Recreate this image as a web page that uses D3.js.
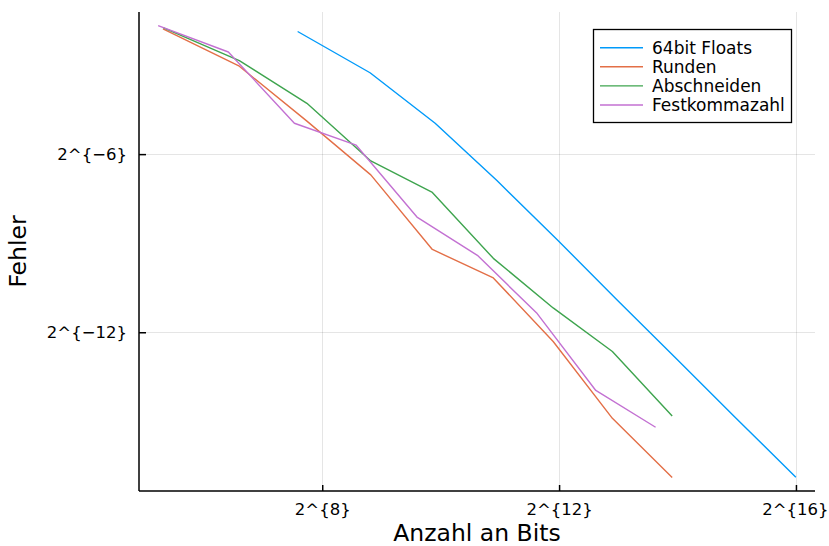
<!DOCTYPE html>
<html>
<head>
<meta charset="utf-8">
<script src="https://cdn.jsdelivr.net/npm/d3@7"></script>
<style>
  html, body { margin: 0; padding: 0; background: #fff; }
  svg { display: block; font-family: "DejaVu Sans", sans-serif; }
</style>
</head>
<body>
<svg id="chart" width="829" height="546"></svg>
<script>
// Number of bits per configuration and resulting error, one pair of arrays per method
const seriesNames = ["64bit Floats", "Runden", "Abschneiden", "Festkommazahl"];
const seriesColors = ["#009AFA", "#E36F47", "#3EA44E", "#C371D2"];

const bitsFloats = [192, 448, 960, 1984, 4032, 8128, 16320, 32704, 65472];
const errFloats = [0.2736, 0.1044, 0.03213, 0.008373, 0.002093, 0.0005126, 0.000129, 3.248e-5, 8.291e-6];

const bitsRunden = [39.7, 97, 214, 452, 929, 1897, 3822, 7643, 15391];
const errRunden = [0.291, 0.1216, 0.03373, 0.009618, 0.001688, 0.000868, 0.0001969, 3.271e-5, 8.234e-6];

const bitsAbschneiden = [39.7, 97, 214, 452, 929, 1897, 3822, 7643, 15391];
const errAbschneiden = [0.2994, 0.1387, 0.05112, 0.01332, 0.006391, 0.001371, 0.000431, 0.0001556, 3.457e-5];

const bitsFestkomma = [37.5, 85.3, 184.8, 381, 776, 1574, 3170, 6294, 12675];
const errFestkomma = [0.3143, 0.1696, 0.03213, 0.01924, 0.003595, 0.00147, 0.0003778, 6.275e-5, 2.657e-5];

const xTickExps = [8, 12, 16];
const yTickExps = [-6, -12];

const xLabel = "Anzahl an Bits";
const yLabel = "Fehler";

const series = [
  { name: seriesNames[0], color: seriesColors[0], x: bitsFloats, y: errFloats },
  { name: seriesNames[1], color: seriesColors[1], x: bitsRunden, y: errRunden },
  { name: seriesNames[2], color: seriesColors[2], x: bitsAbschneiden, y: errAbschneiden },
  { name: seriesNames[3], color: seriesColors[3], x: bitsFestkomma, y: errFestkomma }
];

const svg = d3.select("#chart");
const plot = { left: 139, right: 815, top: 12, bottom: 491 };

// log2 extent of the data, widened by 3% on each side
function paddedDomain(values) {
  const [lo, hi] = d3.extent(values, v => Math.log2(v));
  const pad = (hi - lo) * 0.03;
  return [Math.pow(2, lo - pad), Math.pow(2, hi + pad)];
}

const x = d3.scaleLog().base(2)
  .domain(paddedDomain(series.flatMap(s => s.x)))
  .range([plot.left, plot.right]);
const y = d3.scaleLog().base(2)
  .domain(paddedDomain(series.flatMap(s => s.y)))
  .range([plot.bottom, plot.top]);

const expLabel = e => "2^{" + String(e).replace("-", "\u2212") + "}";
const xTicks = xTickExps.map(e => Math.pow(2, e));
const yTicks = yTickExps.map(e => Math.pow(2, e));

// grid
const grid = svg.append("g").attr("stroke", "#000").attr("stroke-opacity", 0.1).attr("stroke-width", 1);
grid.selectAll(".gx").data(xTicks).join("line")
  .attr("x1", d => Math.round(x(d)) + 0.5).attr("x2", d => Math.round(x(d)) + 0.5)
  .attr("y1", plot.top).attr("y2", plot.bottom);
grid.selectAll(".gy").data(yTicks).join("line")
  .attr("y1", d => Math.round(y(d)) + 0.5).attr("y2", d => Math.round(y(d)) + 0.5)
  .attr("x1", plot.left).attr("x2", plot.right);

// axes
const xAxis = d3.axisBottom(x).tickValues(xTicks).tickSize(-6).tickPadding(12)
  .tickFormat((d, i) => expLabel(xTickExps[i]));
const yAxis = d3.axisLeft(y).tickValues(yTicks).tickSize(-7).tickPadding(12)
  .tickFormat((d, i) => expLabel(yTickExps[i]));

const gx = svg.append("g").attr("transform", `translate(0,${plot.bottom})`).call(xAxis);
const gy = svg.append("g").attr("transform", `translate(${plot.left},0)`).call(yAxis);
[gx, gy].forEach(g => {
  g.select(".domain").attr("stroke", "#000").attr("stroke-width", 1.5);
  g.selectAll(".tick line").attr("stroke", "#000").attr("stroke-width", 1.5);
  g.selectAll(".tick text").attr("fill", "#000")
    .style("font-family", "'DejaVu Sans', sans-serif").style("font-size", "16.5px");
});
gx.select(".domain").attr("d", `M${plot.left},0H${plot.right}`);
gy.select(".domain").attr("d", `M0,${plot.bottom}V${plot.top}`);
// keep the rightmost tick label inside the canvas
gx.selectAll(".tick text").filter((d, i) => i === xTicks.length - 1).attr("dx", "-1");

// axis titles
svg.append("text")
  .attr("x", (plot.left + plot.right) / 2).attr("y", 541)
  .attr("text-anchor", "middle").style("font-size", "23.5px").text(xLabel);
svg.append("text")
  .attr("transform", `translate(25.5,${(plot.top + plot.bottom) / 2}) rotate(-90)`)
  .attr("text-anchor", "middle").style("font-size", "23.5px").text(yLabel);

// series lines
const line = d3.line().x(d => x(d[0])).y(d => y(d[1]));
svg.append("g").selectAll("path").data(series).join("path")
  .attr("fill", "none")
  .attr("stroke", d => d.color)
  .attr("stroke-width", 1.4)
  .attr("stroke-linejoin", "round")
  .attr("d", d => line(d3.zip(d.x, d.y)));

// legend
const legend = svg.append("g");
legend.append("rect")
  .attr("x", 593.5).attr("y", 29.5).attr("width", 198).attr("height", 93)
  .attr("fill", "#fff").attr("stroke", "#000").attr("stroke-width", 1.3);
const item = legend.selectAll(".item").data(series).join("g")
  .attr("transform", (d, i) => `translate(0,${47.7 + i * 19.1})`);
item.append("line").attr("x1", 600).attr("x2", 643)
  .attr("stroke", d => d.color).attr("stroke-width", 1.4);
item.append("text").attr("x", 652).attr("dy", "0.36em")
  .style("font-size", "17px").attr("fill", "#000").text(d => d.name);
</script>
</body>
</html>
